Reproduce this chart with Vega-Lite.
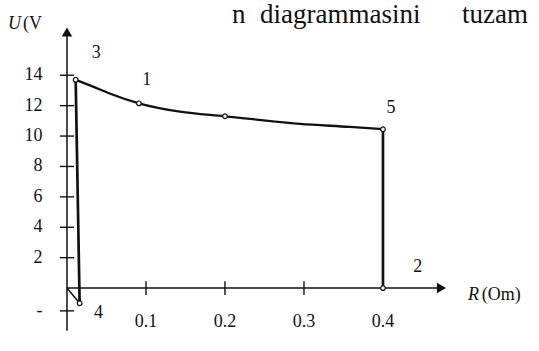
{
  "$schema": "https://vega.github.io/schema/vega-lite/v6.json",
  "width": 539,
  "height": 351,
  "autosize": {"type": "fit", "contains": "padding"},
  "padding": 0,
  "background": "white",
  "config": {"view": {"stroke": null}, "text": {"font": "Liberation Serif, Times New Roman, serif"}},
  "datasets": {
    "axes": [
      {"R": 0, "R2": 0, "U": -2.8, "U2": 16.6},
      {"R": 0, "R2": 0.472, "U": 0, "U2": 0}
    ],
    "ticks": [
      {"R": -0.009, "R2": 0.009, "U": 14, "U2": 14},
      {"R": -0.009, "R2": 0.009, "U": 12, "U2": 12},
      {"R": -0.009, "R2": 0.009, "U": 10, "U2": 10},
      {"R": -0.009, "R2": 0.009, "U": 8, "U2": 8},
      {"R": -0.009, "R2": 0.009, "U": 6, "U2": 6},
      {"R": -0.009, "R2": 0.009, "U": 4, "U2": 4},
      {"R": -0.009, "R2": 0.009, "U": 2, "U2": 2},
      {"R": -0.009, "R2": 0.009, "U": -1.5, "U2": -1.5},
      {"R": 0.1, "R2": 0.1, "U": -0.45, "U2": 0.45},
      {"R": 0.2, "R2": 0.2, "U": -0.45, "U2": 0.45},
      {"R": 0.3, "R2": 0.3, "U": -0.45, "U2": 0.45}
    ],
    "arrows": [
      {"R": 0, "U": 16.85, "dir": "up"},
      {"R": 0.474, "U": 0, "dir": "right"}
    ],
    "path": [
      {"seg": "base", "i": 1, "R": 0, "U": 0},
      {"seg": "base", "i": 2, "R": 0.016, "U": -1.0},
      {"seg": "left", "i": 1, "R": 0.016, "U": -1.0},
      {"seg": "left", "i": 2, "R": 0.011, "U": 13.7},
      {"seg": "curve", "i": 1, "R": 0.011, "U": 13.7},
      {"seg": "curve", "i": 2, "R": 0.033, "U": 13.25},
      {"seg": "curve", "i": 3, "R": 0.054, "U": 12.8},
      {"seg": "curve", "i": 4, "R": 0.091, "U": 12.15},
      {"seg": "curve", "i": 5, "R": 0.143, "U": 11.6},
      {"seg": "curve", "i": 6, "R": 0.2, "U": 11.3},
      {"seg": "curve", "i": 7, "R": 0.295, "U": 10.8},
      {"seg": "curve", "i": 8, "R": 0.358, "U": 10.6},
      {"seg": "curve", "i": 9, "R": 0.4, "U": 10.45},
      {"seg": "right", "i": 1, "R": 0.4, "U": 10.45},
      {"seg": "right", "i": 2, "R": 0.4, "U": 0}
    ],
    "markers": [
      {"R": 0.011, "U": 13.7},
      {"R": 0.091, "U": 12.15},
      {"R": 0.2, "U": 11.3},
      {"R": 0.4, "U": 10.45},
      {"R": 0.4, "U": 0},
      {"R": 0.016, "U": -1.0}
    ],
    "labels": [
      {"text": "14", "R": -0.031, "U": 14, "kind": "ytick"},
      {"text": "12", "R": -0.031, "U": 12, "kind": "ytick"},
      {"text": "10", "R": -0.031, "U": 10, "kind": "ytick"},
      {"text": "8", "R": -0.031, "U": 8, "kind": "ytick"},
      {"text": "6", "R": -0.031, "U": 6, "kind": "ytick"},
      {"text": "4", "R": -0.031, "U": 4, "kind": "ytick"},
      {"text": "2", "R": -0.031, "U": 2, "kind": "ytick"},
      {"text": "-", "R": -0.031, "U": -1.5, "kind": "ytick"},
      {"text": "0.1", "R": 0.1, "U": -2.2, "kind": "xtick"},
      {"text": "0.2", "R": 0.2, "U": -2.2, "kind": "xtick"},
      {"text": "0.3", "R": 0.3, "U": -2.2, "kind": "xtick"},
      {"text": "0.4", "R": 0.4, "U": -2.2, "kind": "xtick"},
      {"text": "3", "R": 0.037, "U": 15.46, "kind": "pt"},
      {"text": "1", "R": 0.101, "U": 13.7, "kind": "pt"},
      {"text": "5", "R": 0.41, "U": 11.85, "kind": "pt"},
      {"text": "2", "R": 0.444, "U": 1.4, "kind": "pt"},
      {"text": "4", "R": 0.04, "U": -1.65, "kind": "pt"},
      {"text": "U", "R": -0.0747, "U": 17.37, "kind": "ti"},
      {"text": "(V", "R": -0.0557, "U": 17.37, "kind": "tr"},
      {"text": "R", "R": 0.5076, "U": -0.45, "kind": "ti"},
      {"text": "(Om)", "R": 0.525, "U": -0.45, "kind": "tr"},
      {"text": "n", "R": 0.2089, "U": 18.8, "kind": "page"},
      {"text": "diagrammasini", "R": 0.2443, "U": 18.8, "kind": "page"},
      {"text": "tuzam", "R": 0.5, "U": 18.8, "kind": "page"}
    ]
  },
  "layer": [
    {
      "data": {"name": "axes"},
      "mark": {"type": "rule", "color": "#111", "strokeWidth": 1.5},
      "encoding": {
        "x": {"field": "R", "type": "quantitative", "axis": null, "scale": {"domain": [-0.0848, 0.5975], "nice": false, "zero": false}},
        "x2": {"field": "R2"},
        "y": {"field": "U", "type": "quantitative", "axis": null, "scale": {"domain": [-4.14, 18.95], "nice": false, "zero": false}},
        "y2": {"field": "U2"}
      }
    },
    {
      "data": {"name": "ticks"},
      "mark": {"type": "rule", "color": "#111", "strokeWidth": 1.4},
      "encoding": {
        "x": {"field": "R", "type": "quantitative"},
        "x2": {"field": "R2"},
        "y": {"field": "U", "type": "quantitative"},
        "y2": {"field": "U2"}
      }
    },
    {
      "data": {"name": "arrows"},
      "transform": [{"filter": "datum.dir === 'up'"}],
      "mark": {"type": "point", "shape": "triangle-up", "filled": true, "color": "#111", "size": 110, "opacity": 1},
      "encoding": {
        "x": {"field": "R", "type": "quantitative"},
        "y": {"field": "U", "type": "quantitative"}
      }
    },
    {
      "data": {"name": "arrows"},
      "transform": [{"filter": "datum.dir === 'right'"}],
      "mark": {"type": "point", "shape": "triangle-right", "filled": true, "color": "#111", "size": 110, "opacity": 1},
      "encoding": {
        "x": {"field": "R", "type": "quantitative"},
        "y": {"field": "U", "type": "quantitative"}
      }
    },
    {
      "data": {"name": "path"},
      "transform": [{"filter": "datum.seg === 'base'"}],
      "mark": {"type": "line", "color": "#111", "strokeWidth": 1.5},
      "encoding": {
        "x": {"field": "R", "type": "quantitative"},
        "y": {"field": "U", "type": "quantitative"},
        "order": {"field": "i", "type": "quantitative"}
      }
    },
    {
      "data": {"name": "path"},
      "transform": [{"filter": "datum.seg === 'left' || datum.seg === 'right'"}],
      "mark": {"type": "line", "color": "#111", "strokeWidth": 2.7},
      "encoding": {
        "x": {"field": "R", "type": "quantitative"},
        "y": {"field": "U", "type": "quantitative"},
        "detail": {"field": "seg"},
        "order": {"field": "i", "type": "quantitative"}
      }
    },
    {
      "data": {"name": "path"},
      "transform": [{"filter": "datum.seg === 'curve'"}],
      "mark": {"type": "line", "color": "#111", "strokeWidth": 2.3, "interpolate": "monotone"},
      "encoding": {
        "x": {"field": "R", "type": "quantitative"},
        "y": {"field": "U", "type": "quantitative"},
        "order": {"field": "i", "type": "quantitative"}
      }
    },
    {
      "data": {"name": "markers"},
      "mark": {"type": "point", "filled": true, "fill": "white", "stroke": "#111", "strokeWidth": 1.2, "size": 22, "opacity": 1},
      "encoding": {
        "x": {"field": "R", "type": "quantitative"},
        "y": {"field": "U", "type": "quantitative"}
      }
    },
    {
      "data": {"name": "labels"},
      "transform": [{"filter": "datum.kind === 'ytick'"}],
      "mark": {"type": "text", "fontSize": 18, "align": "right", "baseline": "middle", "color": "#111"},
      "encoding": {
        "x": {"field": "R", "type": "quantitative"},
        "y": {"field": "U", "type": "quantitative"},
        "text": {"field": "text"}
      }
    },
    {
      "data": {"name": "labels"},
      "transform": [{"filter": "datum.kind === 'xtick' || datum.kind === 'pt'"}],
      "mark": {"type": "text", "fontSize": 18, "align": "center", "baseline": "middle", "color": "#111"},
      "encoding": {
        "x": {"field": "R", "type": "quantitative"},
        "y": {"field": "U", "type": "quantitative"},
        "text": {"field": "text"}
      }
    },
    {
      "data": {"name": "labels"},
      "transform": [{"filter": "datum.kind === 'ti'"}],
      "mark": {"type": "text", "fontSize": 18, "fontStyle": "italic", "align": "left", "baseline": "middle", "color": "#111"},
      "encoding": {
        "x": {"field": "R", "type": "quantitative"},
        "y": {"field": "U", "type": "quantitative"},
        "text": {"field": "text"}
      }
    },
    {
      "data": {"name": "labels"},
      "transform": [{"filter": "datum.kind === 'tr'"}],
      "mark": {"type": "text", "fontSize": 18, "align": "left", "baseline": "middle", "color": "#111"},
      "encoding": {
        "x": {"field": "R", "type": "quantitative"},
        "y": {"field": "U", "type": "quantitative"},
        "text": {"field": "text"}
      }
    },
    {
      "data": {"name": "labels"},
      "transform": [{"filter": "datum.kind === 'page'"}],
      "mark": {"type": "text", "fontSize": 27, "align": "left", "baseline": "top", "color": "#111"},
      "encoding": {
        "x": {"field": "R", "type": "quantitative"},
        "y": {"field": "U", "type": "quantitative"},
        "text": {"field": "text"}
      }
    }
  ]
}
